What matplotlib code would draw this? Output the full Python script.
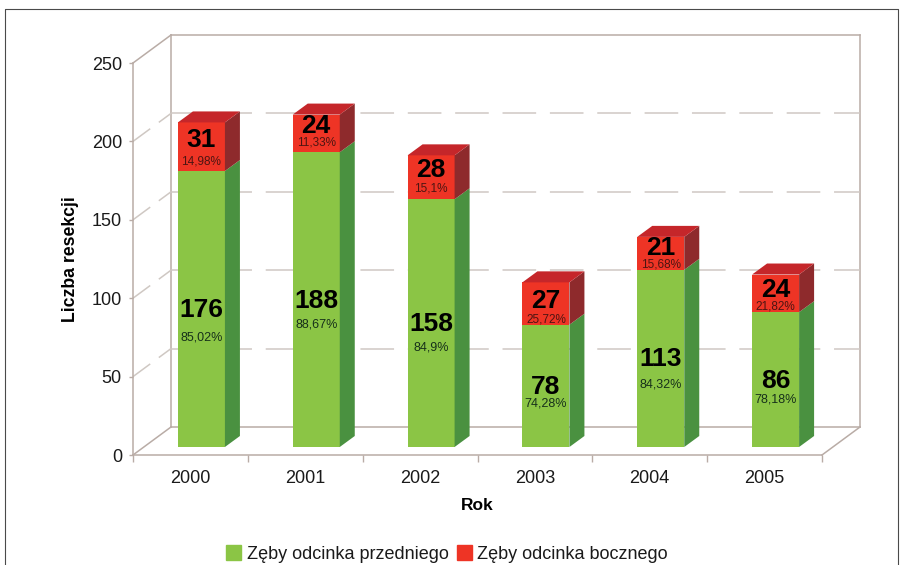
import matplotlib
matplotlib.use('Agg')
import matplotlib.pyplot as plt
from matplotlib.lines import Line2D
from matplotlib.patches import Patch, Polygon

plt.rcParams['font.family'] = ['Liberation Sans', 'DejaVu Sans']

lata = ['2000', '2001', '2002', '2003', '2004', '2005']
przednie = [176, 188, 158, 78, 113, 86]
boczne = [31, 24, 28, 27, 21, 24]
proc_przednie = ['85,02%', '88,67%', '84,9%', '74,28%', '84,32%', '78,18%']
proc_boczne = ['14,98%', '11,33%', '15,1%', '25,72%', '15,68%', '21,82%']

ZIELONY = '#8bc545'
ZIELONY_BOK = '#4a9140'
CZERWONY = '#ee3425'
CZERWONY_BOK = '#8e2a2c'
CZERWONY_GORA = '#c5262a'
SCIANA = '#b9aca6'
SIATKA = '#cfc8c3'

W, H = 905, 565
fig = plt.figure(figsize=(W / 100, H / 100), dpi=100)
# os przednia plaszczyzna wykresu, reszta 3D liczona jako przesuniecie
ax = fig.add_axes([133 / W, 1 - 455 / H, 689 / W, 392 / H])
ax.set_xlim(-0.5, 5.5)
ax.set_ylim(0, 250)

sx = 6 / 689   # px -> jednostki x
sy = 250 / 392  # px -> jednostki y


def przes(x, y, dx, dy):
    return x + dx * sx, y + dy * sy


# sciany tla
x0, x1 = -0.5, 5.5
glebx, gleby = 38, 28
bx0, by0 = przes(x0, 0, glebx, gleby)
bx1, by1 = przes(x1, 250, glebx, gleby)
sciany = [
    ([x0, bx0], [250, by1]),
    ([bx0, bx1], [by1, by1]),
    ([bx1, bx1], [by1, by0]),
    ([bx1, bx0], [by0, by0]),
    ([bx0, bx0], [by0, by1]),
    ([x0, bx0], [0, by0]),
    ([x1, bx1], [0, by0]),
]
for xs, ys in sciany:
    ax.plot(xs, ys, color=SCIANA, lw=1.1, clip_on=False, zorder=1)

for v in [50, 100, 150, 200]:
    ax.plot([x0, bx0], [v, v + gleby * sy], color=SIATKA, lw=1.1, dashes=(14, 7),
            clip_on=False, zorder=1)
    ax.plot([bx0, bx1], [v + gleby * sy] * 2, color=SIATKA, lw=1.1, dashes=(22, 9),
            clip_on=False, zorder=1)

# slupki
szer = 47 / 114.8
pdx, pdy = 11, 8      # przesuniecie przedniej sciany slupka
bokx, boky = 15, 11     # glebokosc slupka

for i in range(len(lata)):
    xc, yb = przes(i, 0, pdx, pdy)
    l, r = xc - szer / 2, xc + szer / 2
    g = przednie[i]
    c = boczne[i]
    ax.bar(xc, g, width=szer, bottom=yb, color=ZIELONY, clip_on=False, zorder=3)
    ax.bar(xc, c, width=szer, bottom=yb + g, color=CZERWONY, clip_on=False, zorder=3)
    rb, _ = przes(r, 0, bokx, boky)
    lb, _ = przes(l, 0, bokx, boky)
    dy = boky * sy
    ax.add_patch(Polygon([(r, yb), (rb, yb + dy), (rb, yb + g + dy), (r, yb + g)],
                         color=ZIELONY_BOK, clip_on=False, zorder=3, lw=0))
    ax.add_patch(Polygon([(r, yb + g), (rb, yb + g + dy), (rb, yb + g + c + dy), (r, yb + g + c)],
                         color=CZERWONY_BOK, clip_on=False, zorder=3, lw=0))
    ax.add_patch(Polygon([(l, yb + g + c), (lb, yb + g + c + dy), (rb, yb + g + c + dy), (r, yb + g + c)],
                         color=CZERWONY_GORA, clip_on=False, zorder=3, lw=0))

# etykiety, przesuniecia w px wzgledem srodka segmentu
odst_g = [-1, -1, -1, -1, -1, -1]
odst_gp = [28, 25, 24, 18, 26, 20]
odst_c = [7, 7, 7, 3, 5, 3]
odst_cp = [-15, -9, -11, -16, -11, -13]
for i in range(len(lata)):
    xc, yb = przes(i, 0, pdx, pdy)
    g = przednie[i]
    c = boczne[i]
    ys = yb + g / 2 + odst_g[i] * sy
    ax.text(xc, ys, str(g), ha='center', va='center', fontsize=19, fontweight='bold',
            color='black', zorder=5)
    ax.text(xc, yb + g / 2 - odst_gp[i] * sy, proc_przednie[i], ha='center', va='center',
            fontsize=9, color='#16301a', zorder=5)
    yc = yb + g + c / 2
    ax.text(xc, yc + odst_c[i] * sy, str(c), ha='center', va='center', fontsize=19,
            fontweight='bold', color='black', zorder=5)
    ax.text(xc, yc + odst_cp[i] * sy, proc_boczne[i], ha='center', va='center',
            fontsize=8.5, color='#4d1512', zorder=5)

for s in ['top', 'right']:
    ax.spines[s].set_visible(False)
for s in ['left', 'bottom']:
    ax.spines[s].set_color(SCIANA)
    ax.spines[s].set_linewidth(1.1)
ax.patch.set_alpha(0)

ax.set_yticks([0, 50, 100, 150, 200, 250])
ax.set_xticks(range(len(lata)))
ax.set_xticklabels(lata)
ax.set_xticks([x - 0.5 for x in range(len(lata) + 1)], minor=True)
ax.tick_params(axis='x', which='major', length=0, labelsize=13, pad=11, labelcolor='#1a1a1a')
ax.tick_params(axis='x', which='minor', length=5, color=SCIANA, width=1)
ax.tick_params(axis='y', length=3, color=SCIANA, width=1, labelsize=13, pad=5, labelcolor='#1a1a1a')

ax.set_xlabel('Rok', fontsize=12.5, fontweight='bold', labelpad=8)
ax.set_ylabel('Liczba resekcji', fontsize=12.7, fontweight='bold', labelpad=9)

# legenda
uchwyty = [Patch(color=ZIELONY, label='Zęby odcinka przedniego'),
           Patch(color=CZERWONY, label='Zęby odcinka bocznego')]
fig.legend(handles=uchwyty, loc='center', bbox_to_anchor=(447 / W, 1 - 554 / H), ncol=2,
           frameon=False, fontsize=13, handlelength=0.85, handleheight=0.85,
           handletextpad=0.3, columnspacing=0.45, labelcolor='#1a1a1a',
           borderaxespad=0, borderpad=0)

# ramka strony
ramka_x = [5 / W, 5 / W, 898 / W, 898 / W]
ramka_y = [0, 1 - 9 / H, 1 - 9 / H, 0]
fig.add_artist(Line2D(ramka_x, ramka_y, color='#4a4a4a', lw=0.8))

fig.savefig('out.png', dpi=100)
